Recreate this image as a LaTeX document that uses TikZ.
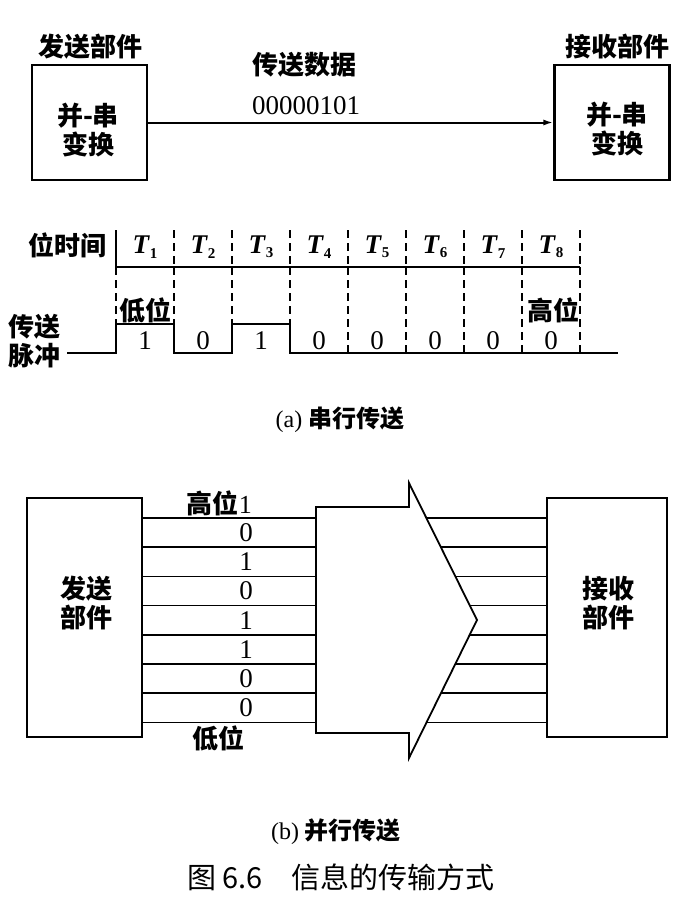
\documentclass[tikz,border=0pt]{standalone}
\usepackage{fontspec}
\setmainfont{Liberation Serif}
\newfontfamily\cjk{Noto Sans CJK SC}
\usetikzlibrary{positioning,arrows.meta}

\begin{document}
\begin{tikzpicture}[
        x=1pt, y=-1pt,
        box/.style={rectangle, draw, line width=2.2pt, minimum width=115pt, minimum height=115pt, inner sep=0pt},
        tallbox/.style={rectangle, draw, line width=2.2pt, minimum height=239pt, inner sep=0pt},
        lbl/.style={font=\cjk\bfseries\fontsize{26}{29}\selectfont, inner sep=0pt, align=center},
        num/.style={font=\fontsize{27}{30}\selectfont, inner sep=0pt},
        captext/.style={font=\fontsize{24}{28}\selectfont, inner sep=0pt},
        arrow/.style={-{Latex[length=10pt,width=6pt]}, line width=2pt},
        rule/.style={line width=2pt},
        guide/.style={line width=1.6pt, dash pattern=on 8pt off 5pt},
        pulse/.style={line width=2.3pt},
        wire/.style={line width=1.6pt}
    ]
        \useasboundingbox (0,0) rectangle (693,919);

        % (a) serial
        \node[box] (src) at (89.5,122.5) {};
        \node[box] (dst) at (612,122.5) {};
        \node[lbl] (srcName) at (90,47) {发送部件};
        \node[lbl] (dstName) at (617,47) {接收部件};
        \node[lbl] (srcConv) at (88,130) {并-串\\变换};
        \node[lbl] (dstConv) at (617,129) {并-串\\变换};
        \node[lbl] (dataTitle) at (304,65) {传送数据};
        \node[num] (dataBits) at (306,106) {00000101};
        \draw[arrow] (src.east) -- (dst.west);

        \node[lbl] (bitTime) at (67,245) {位时间};
        \foreach \i in {0,...,8} {
            \coordinate (d\i) at (116+58*\i,230);
            \coordinate (r\i) at (116+58*\i,267);
            \coordinate (h\i) at (116+58*\i,324);
            \coordinate (l\i) at (116+58*\i,353);
        }
        \draw[rule] (r0) -- (r8);
        \draw[rule] (d0) -- (r0);
        \foreach \i in {1,...,8} \draw[guide] (d\i) -- (r\i);
        \foreach \i in {0,...,3} \draw[guide] (r\i) -- (h\i);
        \foreach \i in {4,...,8} \draw[guide] (r\i) -- (l\i);
        \foreach \i in {1,...,8}
            \node[num] (T\i) at (87+58*\i,247) {\textbf{\textit{T}}\raisebox{-0.35ex}{\fontsize{15}{16}\selectfont\bfseries\i}};

        \coordinate (pulseIn) at (67,353);
        \coordinate (pulseOut) at (618,353);
        \draw[pulse] (pulseIn) -- (l0) -- (h0) -- (h1) -- (l1) -- (l2) -- (h2) -- (h3) -- (l3) -- (pulseOut);
        \foreach \b [count=\i] in {1,0,1,0,0,0,0,0} \node[num] (bit\i) at (87+58*\i,341) {\b};
        \node[lbl] (lowA) at (145,310) {低位};
        \node[lbl] (highA) at (553,310) {高位};
        \node[lbl] (pulseName) at (35,341) {传送\\脉冲};
        \node[captext] (capA) at (340,420) {(a) {\cjk\bfseries 串行传送}};

        % (b) parallel
        \node[tallbox, minimum width=115pt] (sender) at (84.5,617.5) {};
        \node[tallbox, minimum width=120pt] (receiver) at (607,617.5) {};
        \node[lbl] (senderName) at (86,603) {发送\\部件};
        \node[lbl] (receiverName) at (608,603) {接收\\部件};
        \draw[line width=1.8pt] (316,507) -- (409,507) -- (409,483) -- (477,620)
            -- (409,758) -- (409,733) -- (316,733) -- cycle;
        \foreach \k in {0,...,7} {
            \pgfmathsetmacro\yy{518+29.2*\k}
            \pgfmathsetmacro\xd{\yy<620 ? 409+(\yy-483)*68/137 : 477-(\yy-620)*68/138}
            \coordinate (a\k) at (316,\yy);
            \coordinate (b\k) at (\xd,\yy);
            \draw[wire] (sender.east |- a\k) -- (a\k);
            \draw[wire] (b\k) -- (receiver.west |- b\k);
        }
        \node[lbl, anchor=east] (highB) at (252,503) {高位\fontspec{Liberation Serif}\mdseries 1};
        \foreach \b [count=\k from 0] in {0,1,0,1,1,0,0}
            \node[num] (pbit\k) at (246,532.6+29.2*\k) {\b};
        \node[lbl] (lowB) at (218,738) {低位};
        \node[captext] (capB) at (336,832) {(b) {\cjk\bfseries 并行传送}};

        \node[font=\cjk\fontsize{29}{32}\selectfont, inner sep=0pt] (figCap) at (341,877) {图 6.6\quad 信息的传输方式};
    \end{tikzpicture}
\end{document}
